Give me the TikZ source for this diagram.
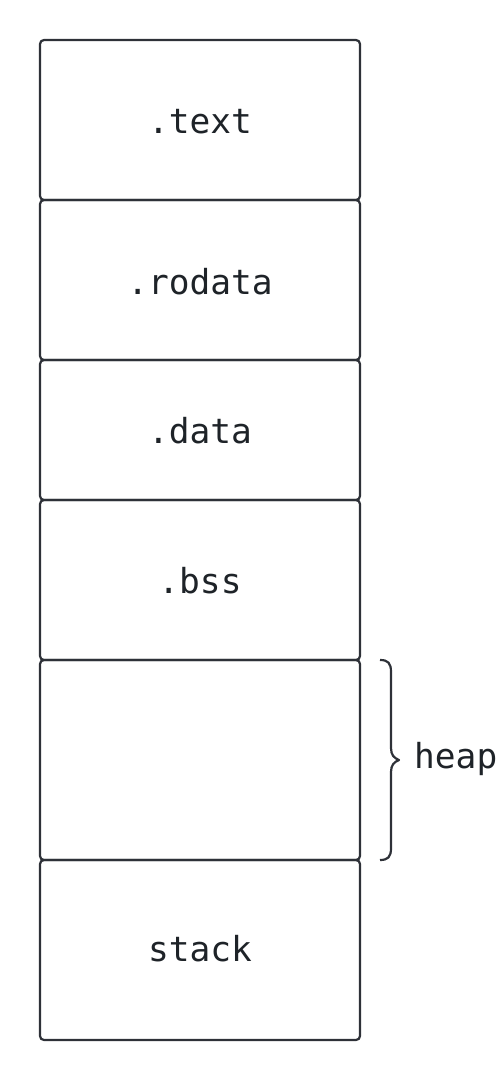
\documentclass[tikz,border=0pt]{standalone}
\usepackage{fontspec}
\setmonofont{DejaVu Sans Mono}
\definecolor{edge}{HTML}{2E3138}
\definecolor{ink}{HTML}{1E2328}
\begin{document}
\begin{tikzpicture}[x=1pt,y=-1pt,
  seg/.style={draw=edge,line width=2.2pt,rounded corners=4pt},
  lbl/.style={text=ink,font=\ttfamily\fontsize{34.5}{38}\selectfont,inner sep=0pt}]
\useasboundingbox (0,0) rectangle (500,1080);
\draw[seg] (40,40) rectangle (360,200);
\draw[seg] (40,200) rectangle (360,360);
\draw[seg] (40,360) rectangle (360,500);
\draw[seg] (40,500) rectangle (360,660);
\draw[seg] (40,660) rectangle (360,860);
\draw[seg] (40,860) rectangle (360,1040);
\node[lbl] (t) at (200,122) {.text};
\node[lbl] (r) at (200,282) {.rodata};
\node[lbl] (d) at (200,431) {.data};
\node[lbl] (b) at (200,581) {.bss};
\node[lbl] (s) at (200,949) {stack};
\node[lbl,anchor=west] (h) at (414,759) {heap};
\draw[edge,line width=2.2pt,line join=round]
  (380,660) .. controls (388,660) and (391,663) .. (391,672)
  -- (391,748) .. controls (391,755) and (394,758) .. (399,760)
  .. controls (394,762) and (391,765) .. (391,772)
  -- (391,848) .. controls (391,857) and (388,860) .. (380,860);
\end{tikzpicture}
\end{document}
